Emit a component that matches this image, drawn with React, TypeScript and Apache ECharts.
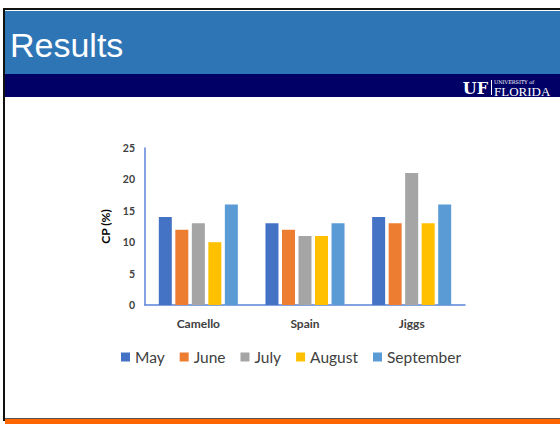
import React, { useEffect, useRef } from "react";
import * as echarts from "echarts";

const categories = ["Camello", "Spain", "Jiggs"];
const seriesNames = ["May", "June", "July", "August", "September"];
const mayValues = [14, 13, 14];
const juneValues = [12, 12, 13];
const julyValues = [13, 11, 21];
const augustValues = [10, 11, 13];
const septemberValues = [16, 13, 16];
const seriesColors = ["#4472C4", "#ED7D31", "#A5A5A5", "#FFC000", "#5B9BD5"];
const yTicks = { min: 0, max: 25, interval: 5 };

export default function App() {
  const ref = useRef<HTMLDivElement>(null);
  useEffect(() => {
    if (!ref.current) return;
    const chart = echarts.init(ref.current, null, { renderer: "svg" });
    const values = [mayValues, juneValues, julyValues, augustValues, septemberValues];
    const font = "Lato, 'Open Sans', sans-serif";
    chart.setOption({
      animation: false,
      backgroundColor: "#ffffff",
      graphic: [
        { type: "rect", shape: { x: 4, y: 9, width: 570, height: 411 }, style: { fill: "#ffffff", stroke: "#111111", lineWidth: 2 }, z: -10 },
        { type: "rect", shape: { x: 5, y: 11, width: 560, height: 63 }, style: { fill: "#2E75B6" }, z: -9 },
        { type: "rect", shape: { x: 5, y: 74, width: 560, height: 23 }, style: { fill: "#000066" }, z: -9 },
        { type: "rect", shape: { x: 5, y: 418, width: 560, height: 1 }, style: { fill: "#555555" }, z: -9 },
        { type: "rect", shape: { x: 5, y: 419, width: 560, height: 5 }, style: { fill: "#FF6600" }, z: -9 },
        { type: "text", x: 10, y: 45, style: { text: "Results", fill: "#ffffff", font: "34px 'Liberation Sans', Arial, sans-serif", textVerticalAlign: "middle" }, z: 5 },
        { type: "text", x: 488, y: 88, style: { text: "UF", fill: "#ffffff", font: "bold 16px 'DejaVu Serif', serif", textAlign: "right", textVerticalAlign: "middle" }, z: 5 },
        { type: "rect", shape: { x: 491, y: 80, width: 1, height: 15 }, style: { fill: "#ffffff" }, z: 5 },
        { type: "text", x: 494, y: 82, style: { text: "UNIVERSITY of", fill: "#ffffff", font: "5px 'DejaVu Serif', serif", textVerticalAlign: "middle" }, z: 5 },
        { type: "text", x: 494, y: 91, style: { text: "FLORIDA", fill: "#ffffff", font: "13px 'Liberation Serif', serif", textVerticalAlign: "middle" }, z: 5 },
      ],
      legend: {
        data: seriesNames,
        left: 121,
        top: 349,
        padding: 0,
        itemWidth: 9,
        itemHeight: 9,
        itemGap: 15,
        icon: "rect",
        textStyle: { fontFamily: font, fontSize: 15.5, color: "#404040" },
      },
      grid: { left: 145, right: 95, top: 148, bottom: 119 },
      xAxis: {
        type: "category",
        data: categories,
        axisLine: { lineStyle: { color: "#5B85D6", width: 1.5 } },
        axisTick: { show: false },
        axisLabel: { fontFamily: font, fontSize: 12, fontWeight: "bold", color: "#404040", margin: 12 },
      },
      yAxis: {
        type: "value",
        min: yTicks.min,
        max: yTicks.max,
        interval: yTicks.interval,
        name: "CP (%)",
        nameLocation: "middle",
        nameRotate: 90,
        nameGap: 27,
        nameTextStyle: { fontFamily: font, fontSize: 12, fontWeight: "bold", color: "#000000" },
        axisLine: { show: true, lineStyle: { color: "#5B85D6", width: 1.5 } },
        axisTick: { show: false },
        splitLine: { show: false },
        axisLabel: { fontFamily: font, fontSize: 10.5, fontWeight: "bold", color: "#404040", margin: 10 },
      },
      series: seriesNames.map((name, i) => ({
        name,
        type: "bar",
        data: values[i],
        barWidth: 13,
        barGap: "27%",
        itemStyle: { color: seriesColors[i] },
      })),
    });
    return () => chart.dispose();
  }, []);
  return (
    <div
      ref={ref}
      style={{ position: "absolute", left: 0, top: 0, width: 560, height: 424 }}
    />
  );
}
